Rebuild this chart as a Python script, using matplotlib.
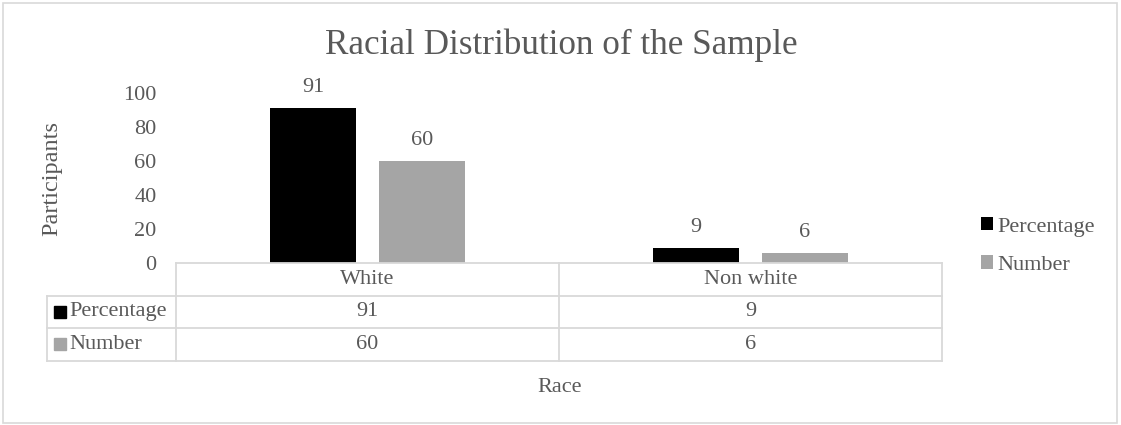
import numpy as np
import matplotlib
matplotlib.use('Agg')
import matplotlib.pyplot as plt
import matplotlib.transforms as mtransforms
from matplotlib.patches import Patch, Rectangle

# -----------------
# Data
# -----------------
categories = ['White', 'Non white']
series_names = ['Percentage', 'Number']
percentage = [91, 9]
number = [60, 6]
y_ticks = [0, 20, 40, 60, 80, 100]

# -----------------
# Style
# -----------------
plt.rcParams['font.family'] = ['Liberation Serif', 'DejaVu Sans']
text_color = '#595959'
line_color = '#D9D9D9'
colors = ['#000000', '#A5A5A5']
fs = 16

fig = plt.figure(figsize=(11.21, 4.25), dpi=100)
W, H = 1121, 425

# plot area in pixels: x 176..942, y 93..263
ax = fig.add_axes([176 / W, (H - 263) / H, 766 / W, 170 / H])

x = np.arange(len(categories))
width = 0.225
offset = 0.142
b1 = ax.bar(x - offset, percentage, width, color=colors[0], label=series_names[0])
b2 = ax.bar(x + offset, number, width, color=colors[1], label=series_names[1])
ax.bar_label(b1, padding=8, fontsize=fs, color=text_color)
ax.bar_label(b2, padding=8, fontsize=fs, color=text_color)

ax.set_xlim(-0.5, len(categories) - 0.5)
ax.set_ylim(0, 100)
ax.set_yticks(y_ticks)
ax.set_xticks([])
ax.tick_params(axis='y', length=0, pad=14, labelsize=fs, labelcolor=text_color)
for s in ax.spines.values():
    s.set_visible(False)

ax.set_ylabel('Participants', fontsize=17.5, color=text_color)
ax.yaxis.set_label_coords(-0.149, 0.5)

# -----------------
# Data table under the axis
# -----------------
trans = mtransforms.blended_transform_factory(ax.transData, ax.transAxes)
rh = 32.5 / 170  # row height in axes fraction
x_left = -0.5
x_right = len(categories) - 0.5
x_lab = -0.5 - (176 - 47) / 383
n_rows = 1 + len(series_names)
kw = dict(color=line_color, lw=1.3, transform=trans, clip_on=False)

# horizontal lines
ax.plot([x_left, x_right], [0, 0], **kw)
for r in range(1, n_rows + 1):
    ax.plot([x_lab, x_right], [-r * rh, -r * rh], **kw)
# vertical lines
ax.plot([x_lab, x_lab], [-rh, -n_rows * rh], **kw)
for c in range(len(categories) + 1):
    ax.plot([c - 0.5, c - 0.5], [0, -n_rows * rh], **kw)

# header row
for i, cat in enumerate(categories):
    ax.text(i, -0.5 * rh, cat, ha='center', va='center', fontsize=fs,
            color=text_color, transform=trans)

# series rows
rows = [percentage, number]
for r, (name, vals) in enumerate(zip(series_names, rows)):
    yc = -(r + 1.5) * rh
    ax.plot([x_lab + (60 - 47) / 383], [yc], marker='s', markersize=8.5,
            color=colors[r], transform=trans, clip_on=False, linestyle='none')
    ax.text(x_lab + (69 - 47) / 383, yc, name, ha='left', va='center',
            fontsize=fs, color=text_color, transform=trans)
    for i, v in enumerate(vals):
        ax.text(i, yc, str(v), ha='center', va='center', fontsize=fs,
                color=text_color, transform=trans)

# -----------------
# Titles, legend, border
# -----------------
fig.text(561 / W, 1 - 45 / H, 'Racial Distribution of the Sample',
         ha='center', va='center', fontsize=25.3, color=text_color)
fig.text(560 / W, 1 - 388 / H, 'Race', ha='center', va='center',
         fontsize=fs, color=text_color)

handles = [Patch(facecolor=c) for c in colors]
fig.legend(handles, series_names, loc='center left',
           bbox_to_anchor=(981 / W, 1 - 246 / H), frameon=False,
           fontsize=fs, labelcolor=text_color, handlelength=0.55,
           handleheight=0.55, handletextpad=0.2, labelspacing=0.85,
           borderpad=0, borderaxespad=0)

fig.patches.append(Rectangle((3 / W, 2 / H), 1114 / W, 420 / H,
                             transform=fig.transFigure, fill=False,
                             edgecolor=line_color, lw=1.2))

fig.savefig('out.png', dpi=100)
